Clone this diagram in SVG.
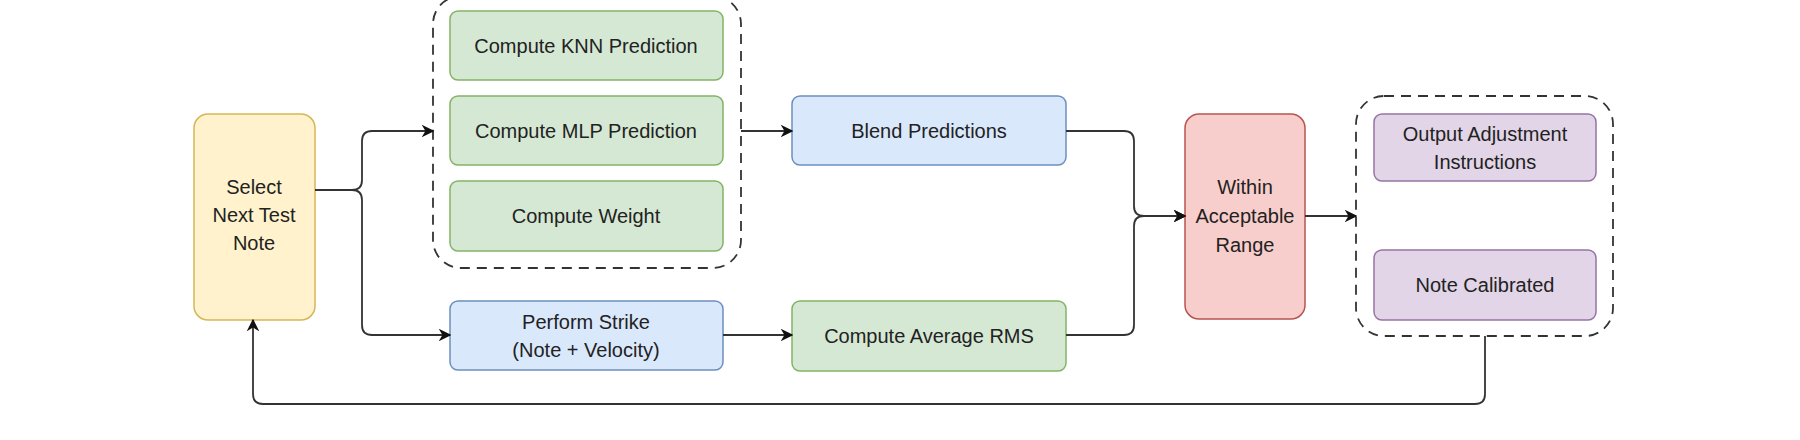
<svg xmlns="http://www.w3.org/2000/svg" width="1800" height="440" viewBox="0 0 1800 440">
<style>
text{font-family:"Liberation Sans",Arial,sans-serif;font-size:20px;fill:#222;text-anchor:middle;dominant-baseline:central}
.g rect{fill:#d5e8d4;stroke:#82b366;stroke-width:1.5}
.b rect{fill:#dae8fc;stroke:#6c8ebf;stroke-width:1.5}
.y rect{fill:#fff2cc;stroke:#d6b656;stroke-width:1.5}
.r rect{fill:#f8cecc;stroke:#b85450;stroke-width:1.5}
.p rect{fill:#e1d5e7;stroke:#9673a6;stroke-width:1.5}
.grp{fill:none;stroke:#333;stroke-width:1.8;stroke-dasharray:10 7}
.c path{fill:none;stroke:#333;stroke-width:1.8}
</style>
<defs><marker id="a" viewBox="0 0 10 10" refX="9" refY="5" markerWidth="7" markerHeight="7" orient="auto-start-reverse"><path d="M0,0 L10,5 L0,10 L3,5 Z" fill="#111"/></marker></defs>
<rect class="grp" x="433" y="-4" width="308" height="272" rx="28"/>
<rect class="grp" x="1356" y="96" width="257" height="240" rx="28"/>
<g id="select" class="y"><rect x="194" y="114" width="121" height="206" rx="14"/><text x="254" y="187">Select</text><text x="254" y="215">Next Test</text><text x="254" y="243">Note</text></g>
<g id="knn" class="g"><rect x="450" y="11" width="273" height="69" rx="8"/><text x="586" y="46">Compute KNN Prediction</text></g>
<g id="mlp" class="g"><rect x="450" y="96" width="273" height="69" rx="8"/><text x="586" y="131">Compute MLP Prediction</text></g>
<g id="weight" class="g"><rect x="450" y="181" width="273" height="70" rx="8"/><text x="586" y="216">Compute Weight</text></g>
<g id="strike" class="b"><rect x="450" y="301" width="273" height="69" rx="8"/><text x="586" y="322">Perform Strike</text><text x="586" y="350">(Note + Velocity)</text></g>
<g id="blend" class="b"><rect x="792" y="96" width="274" height="69" rx="8"/><text x="929" y="131">Blend Predictions</text></g>
<g id="rms" class="g"><rect x="792" y="301" width="274" height="70" rx="8"/><text x="929" y="336">Compute Average RMS</text></g>
<g id="within" class="r"><rect x="1185" y="114" width="120" height="205" rx="14"/><text x="1245" y="187">Within</text><text x="1245" y="216">Acceptable</text><text x="1245" y="245">Range</text></g>
<g id="output" class="p"><rect x="1374" y="114" width="222" height="67" rx="8"/><text x="1485" y="134">Output Adjustment</text><text x="1485" y="162">Instructions</text></g>
<g id="calibrated" class="p"><rect x="1374" y="250" width="222" height="70" rx="8"/><text x="1485" y="285">Note Calibrated</text></g>
<g class="c">
<path d="M315,190 H352 Q362,190 362,180 V141 Q362,131 372,131 H433" marker-end="url(#a)"/>
<path d="M315,190 H352 Q362,190 362,200 V325 Q362,335 372,335 H450" marker-end="url(#a)"/>
<path d="M741,131 H792" marker-end="url(#a)"/>
<path d="M723,335 H792" marker-end="url(#a)"/>
<path d="M1066,131 H1124 Q1134,131 1134,141 V206 Q1134,216 1144,216 H1185" marker-end="url(#a)"/>
<path d="M1066,335 H1124 Q1134,335 1134,325 V226 Q1134,216 1144,216 H1185" marker-end="url(#a)"/>
<path d="M1305,216 H1356" marker-end="url(#a)"/>
<path d="M1485,336 V394 Q1485,404 1475,404 H263 Q253,404 253,394 V320" marker-end="url(#a)"/>
</g>
</svg>
